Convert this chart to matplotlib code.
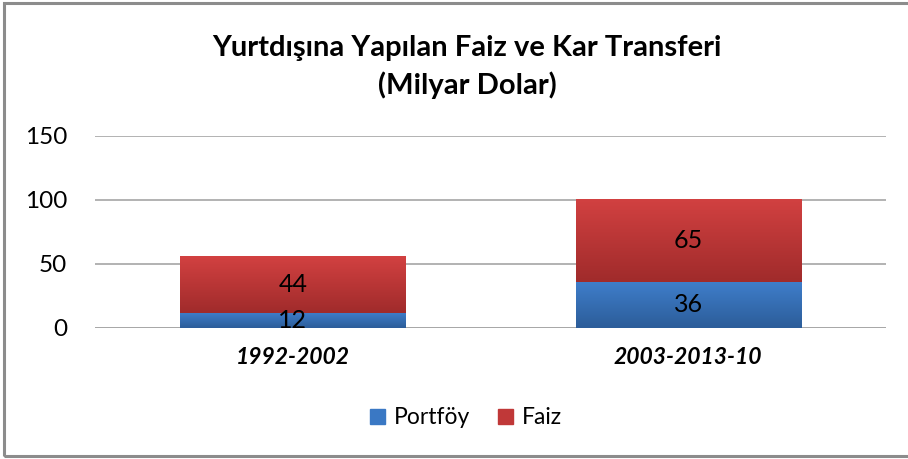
import matplotlib.pyplot as plt
import numpy as np
from matplotlib.patches import Rectangle

periods = ["1992-2002", "2003-2013-10"]
portfoy = [12, 36]
faiz = [44, 65]
yticks = [0, 50, 100, 150]

plt.rcParams['font.family'] = ['Lato', 'DejaVu Sans']

fig = plt.figure(figsize=(9.08, 4.59), dpi=100)
ax = fig.add_axes([95/908, 1-328/459, 791/908, 192/459])

x = np.arange(len(periods))
w = 0.57

def rgb(h):
    h = h.lstrip('#')
    return np.array([int(h[i:i+2], 16) / 255 for i in (0, 2, 4)])

def grad_bars(bars, top, bottom):
    # vertical gradient clipped to each bar
    for b in bars:
        x0, y0 = b.get_x(), b.get_y()
        x1, y1 = x0 + b.get_width(), y0 + b.get_height()
        g = np.linspace(0, 1, 64)[:, None, None]
        img = top * (1 - g) + bottom * g
        im = ax.imshow(img, extent=[x0, x1, y0, y1], aspect='auto', origin='upper', zorder=3)
        im.set_clip_path(b)
        b.set_facecolor('none')

b1 = ax.bar(x, portfoy, w, color='#3D7CC9', zorder=2)
b2 = ax.bar(x, faiz, w, bottom=portfoy, color='#C83A3A', zorder=2)
grad_bars(b1, rgb('#3F7ECB'), rgb('#2C5D99'))
grad_bars(b2, rgb('#D24141'), rgb('#A02B2B'))

for i in range(len(periods)):
    ax.text(x[i], portfoy[i] / 2, str(portfoy[i]), ha='center', va='center', fontsize=18, zorder=5)
    ax.text(x[i], portfoy[i] + faiz[i] / 2, str(faiz[i]), ha='center', va='center', fontsize=18, zorder=5)

ax.set_xlim(-0.5, 1.5)
ax.set_ylim(0, 150)
ax.set_yticks(yticks)
ax.yaxis.grid(True, color='#A6A6A6', lw=1.2)
ax.set_axisbelow(True)
for s in ax.spines.values():
    s.set_visible(False)
ax.tick_params(length=0, labelsize=17.5)
ax.tick_params(axis='y', pad=20)
ax.set_xticks(x)
ax.set_xticklabels(periods, fontweight='bold', style='italic', fontsize=16.5)
ax.tick_params(axis='x', pad=14)
ax.axhline(0, color='#A6A6A6', lw=1.2, zorder=1)

fig.text(467/908, 1 - 48/459, "Yurtdışına Yapılan Faiz ve Kar Transferi", ha='center', va='center',
         fontsize=21, fontweight='bold')
fig.text(467/908, 1 - 85/459, "(Milyar Dolar)", ha='center', va='center', fontsize=21, fontweight='bold')

h1 = Rectangle((0, 0), 1, 1, color='#3A78C4')
h2 = Rectangle((0, 0), 1, 1, color='#C03838')
fig.legend([h1, h2], ['Portföy', 'Faiz'], loc='center', bbox_to_anchor=(466/908, 1 - 418/459), ncol=2,
           frameon=False, fontsize=16.5, handlelength=0.65, handleheight=0.65, handletextpad=0.4, columnspacing=1.2)

fig.patches.append(Rectangle((4/908, 3/459), 1.02, 453/459, transform=fig.transFigure,
                             fill=False, ec='#8C8C8C', lw=2.2))

fig.savefig('out.png', dpi=100)
